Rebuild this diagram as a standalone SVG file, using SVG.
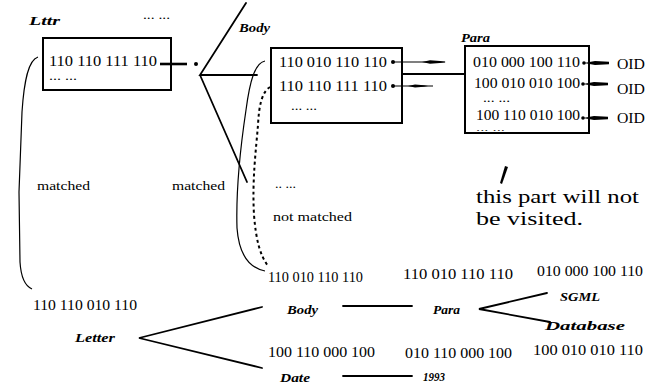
<svg xmlns="http://www.w3.org/2000/svg" width="659" height="385" viewBox="0 0 659 385">
<style>
  text{font-family:"Liberation Serif","Times New Roman",serif;fill:#000}
  .lbl{font-style:italic;font-weight:bold;font-size:12px}
  .code{font-size:14px}
  .dots{font-size:12px}
  .sdots{font-size:9px}
  .note{font-size:13px}
  .big{font-size:19px}
  .box{fill:#fff;stroke:#000;stroke-width:2}
  .ln{fill:none;stroke:#000;stroke-width:1.8;stroke-linecap:round}
  .thin{fill:none;stroke:#000;stroke-width:1.2}
  .dash{fill:none;stroke:#000;stroke-width:2;stroke-dasharray:3 3}
  .ink{fill:#000;stroke:none}
</style>

<!-- root signature block -->
<g id="node-lttr">
  <text class="lbl" x="29" y="25" textLength="31" lengthAdjust="spacingAndGlyphs">Lttr</text>
  <text class="dots" x="143" y="19" textLength="27" lengthAdjust="spacingAndGlyphs">... ...</text>
  <rect class="box" x="43" y="38" width="128" height="52"/>
  <text class="code" x="49" y="66" textLength="108" lengthAdjust="spacingAndGlyphs">110 110 111 110</text>
  <text class="dots" x="49" y="80" textLength="28" lengthAdjust="spacingAndGlyphs">... ...</text>
</g>

<!-- Body signature block -->
<g id="node-body">
  <text class="lbl" x="239" y="32" textLength="31" lengthAdjust="spacingAndGlyphs">Body</text>
  <rect class="box" x="271" y="48" width="131" height="75"/>
  <text class="code" x="279" y="67" textLength="108" lengthAdjust="spacingAndGlyphs">110 010 110 110</text>
  <text class="code" x="279" y="91" textLength="108" lengthAdjust="spacingAndGlyphs">110 110 111 110</text>
  <text class="dots" x="291" y="110" textLength="26" lengthAdjust="spacingAndGlyphs">... ...</text>
</g>

<!-- Para signature block -->
<g id="node-para">
  <text class="lbl" x="461" y="42" textLength="29" lengthAdjust="spacingAndGlyphs">Para</text>
  <rect class="box" x="465" y="46" width="124" height="87"/>
  <text class="code" x="473" y="67" textLength="107" lengthAdjust="spacingAndGlyphs">010 000 100 110</text>
  <text class="code" x="474" y="88" textLength="106" lengthAdjust="spacingAndGlyphs">100 010 010 100</text>
  <text class="dots" x="483" y="102" textLength="27" lengthAdjust="spacingAndGlyphs">... ...</text>
  <text class="code" x="476" y="120" textLength="104" lengthAdjust="spacingAndGlyphs">100 110 010 100</text>
  <text class="sdots" x="476" y="131" textLength="29" lengthAdjust="spacingAndGlyphs">... ...</text>
</g>

<g id="node-oid">
  <text class="code" x="617" y="69" textLength="28" lengthAdjust="spacingAndGlyphs">OID</text>
  <text class="code" x="617" y="94" textLength="28" lengthAdjust="spacingAndGlyphs">OID</text>
  <text class="code" x="617" y="123" textLength="28" lengthAdjust="spacingAndGlyphs">OID</text>
</g>

<!-- annotations -->
<g id="labels">
  <text class="note" x="37" y="190" textLength="53" lengthAdjust="spacingAndGlyphs">matched</text>
  <text class="note" x="172" y="190" textLength="53" lengthAdjust="spacingAndGlyphs">matched</text>
  <text class="dots" x="275" y="188" textLength="21" lengthAdjust="spacingAndGlyphs">.. ...</text>
  <text class="note" x="273" y="221" textLength="79" lengthAdjust="spacingAndGlyphs">not matched</text>
  <text class="big" x="476" y="203" textLength="163" lengthAdjust="spacingAndGlyphs">this part will not</text>
  <text class="big" x="476" y="225" textLength="107" lengthAdjust="spacingAndGlyphs">be visited.</text>
  <polygon class="ink" points="505,166 508,167 502,184 500,183"/>
</g>

<!-- document tree with signatures -->
<g id="node-t-letter">
  <text class="code" x="33" y="310" textLength="104" lengthAdjust="spacingAndGlyphs">110 110 010 110</text>
  <text class="lbl" x="75" y="342" textLength="40" lengthAdjust="spacingAndGlyphs">Letter</text>
</g>
<g id="node-t-body">
  <text class="code" x="268" y="282" textLength="95" lengthAdjust="spacingAndGlyphs">110 010 110 110</text>
  <text class="lbl" x="287" y="314" textLength="31" lengthAdjust="spacingAndGlyphs">Body</text>
</g>
<g id="node-t-date">
  <text class="code" x="268" y="357" textLength="107" lengthAdjust="spacingAndGlyphs">100 110 000 100</text>
  <text class="lbl" x="280" y="382" textLength="30" lengthAdjust="spacingAndGlyphs">Date</text>
</g>
<g id="node-t-para">
  <text class="code" x="403" y="279" textLength="110" lengthAdjust="spacingAndGlyphs">110 010 110 110</text>
  <text class="lbl" x="433" y="314" textLength="27" lengthAdjust="spacingAndGlyphs">Para</text>
</g>
<g id="node-t-1993">
  <text class="code" x="405" y="358" textLength="107" lengthAdjust="spacingAndGlyphs">010 110 000 100</text>
  <text class="lbl" x="423" y="381" textLength="22" lengthAdjust="spacingAndGlyphs">1993</text>
</g>
<g id="node-t-sgml">
  <text class="code" x="537" y="276" textLength="106" lengthAdjust="spacingAndGlyphs">010 000 100 110</text>
  <text class="lbl" x="560" y="301" textLength="40" lengthAdjust="spacingAndGlyphs">SGML</text>
</g>
<g id="node-t-database">
  <text class="lbl" x="545" y="330" textLength="80" lengthAdjust="spacingAndGlyphs">Database</text>
  <text class="code" x="533" y="355" textLength="110" lengthAdjust="spacingAndGlyphs">100 010 010 110</text>
</g>

<g id="connectors">
  <!-- Lttr entry to Body fan -->
  <line x1="160" y1="64" x2="187" y2="64" stroke="#000" stroke-width="2.6"/>
  <circle class="ink" cx="196" cy="64" r="2"/>
  <path class="ln" d="M246,3 L200,75 L257,75 M200,75 L247,182"/>

  <!-- Body entries to Para -->
  <circle class="ink" cx="393" cy="62" r="2"/>
  <line class="thin" x1="393" y1="62" x2="445" y2="62"/>
  <polygon class="ink" points="422,62 430,60.3 440,61 446,62 440,63 430,63.7"/>
  <circle class="ink" cx="393" cy="86" r="2"/>
  <line class="thin" x1="393" y1="86" x2="433" y2="86"/>
  <polygon class="ink" points="408,86 415,84.4 424,85.2 428,86 424,86.8 415,87.6"/>
  <line class="ln" x1="402" y1="74" x2="465" y2="74"/>

  <!-- Para entries to OIDs -->
  <circle class="ink" cx="584" cy="63" r="1.8"/>
  <polygon class="ink" points="584,63 595,61 609,61.8 609,64.2 595,65"/>
  <circle class="ink" cx="583" cy="84" r="1.8"/>
  <polygon class="ink" points="583,84 594,82 608,82.8 608,85.2 594,86"/>
  <circle class="ink" cx="583" cy="118" r="1.8"/>
  <polygon class="ink" points="583,118 594,116 608,116.8 608,119.2 594,120"/>

  <!-- matched ranges -->
  <path class="thin" stroke-width="1.6" d="M38,57 C28,60 24,82 22,112 L19,192 L20,262 C21,278 25,286 32,289"/>
  <path class="thin" stroke-width="1.6" d="M265,61 C255,63 250,80 246,110 C240,150 236,195 237,228 C239,255 250,268 265,271"/>
  <path class="dash" d="M270,87 C262,92 259,105 258,125 C256,150 252,180 254,215 C256,240 260,255 268,266"/>

  <!-- tree edges -->
  <path class="ln" d="M262,307 L139,338 L262,368"/>
  <line class="ln" x1="343" y1="306" x2="412" y2="306"/>
  <path class="ln" d="M547,293 L479,309 L550,322"/>
  <line class="ln" x1="343" y1="376" x2="412" y2="376"/>
</g>
</svg>
